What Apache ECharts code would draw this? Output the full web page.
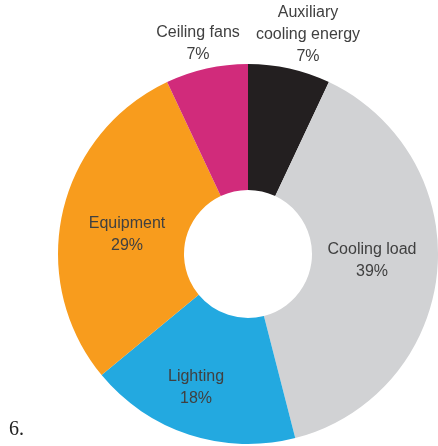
<!DOCTYPE html>
<html>
<head>
<meta charset="utf-8">
<script src="https://cdn.jsdelivr.net/npm/echarts@6/dist/echarts.min.js"></script>
<style>
html, body { margin: 0; padding: 0; background: #fff; }
#chart { width: 438px; height: 446px; }
</style>
</head>
<body>
<div id="chart"></div>
<script>
// Energy use breakdown, clockwise from 12 o'clock
const categories = ['Auxiliary\ncooling energy', 'Cooling load', 'Lighting', 'Equipment', 'Ceiling fans'];
const shares = [7, 39, 18, 29, 7];
const colors = ['#231f20', '#d1d2d4', '#23a9e0', '#f89c1d', '#d12b7b'];

// Label anchor points (pixels) for each slice's caption
const labelSpots = [
  [308, 35], [372, 261], [196, 388], [127, 235], [198, 44]
];

const chart = echarts.init(document.getElementById('chart'), null, { renderer: 'canvas' });
chart.setOption({
  animation: false,
  graphic: [{
    type: 'text',
    left: 9,
    top: 420,
    style: { text: '6.', font: '20px "Liberation Serif", serif', fill: '#222' }
  }],
  series: [{
    type: 'pie',
    center: [248, 254],
    radius: [64, 190],
    startAngle: 90,
    clockwise: true,
    avoidLabelOverlap: false,
    itemStyle: { borderWidth: 0 },
    emphasis: { disabled: true },
    label: {
      show: true,
      position: 'inside',
      formatter: p => p.name + '\n' + p.value + '%',
      fontFamily: '"Liberation Sans", Arial, sans-serif',
      fontSize: 16,
      lineHeight: 22,
      color: '#404040',
      align: 'center'
    },
    labelLine: { show: false },
    labelLayout: p => ({
      x: labelSpots[p.dataIndex][0],
      y: labelSpots[p.dataIndex][1],
      align: 'center',
      verticalAlign: 'middle'
    }),
    data: categories.map((c, i) => ({
      name: c,
      value: shares[i],
      itemStyle: { color: colors[i] }
    }))
  }]
});
</script>
</body>
</html>
